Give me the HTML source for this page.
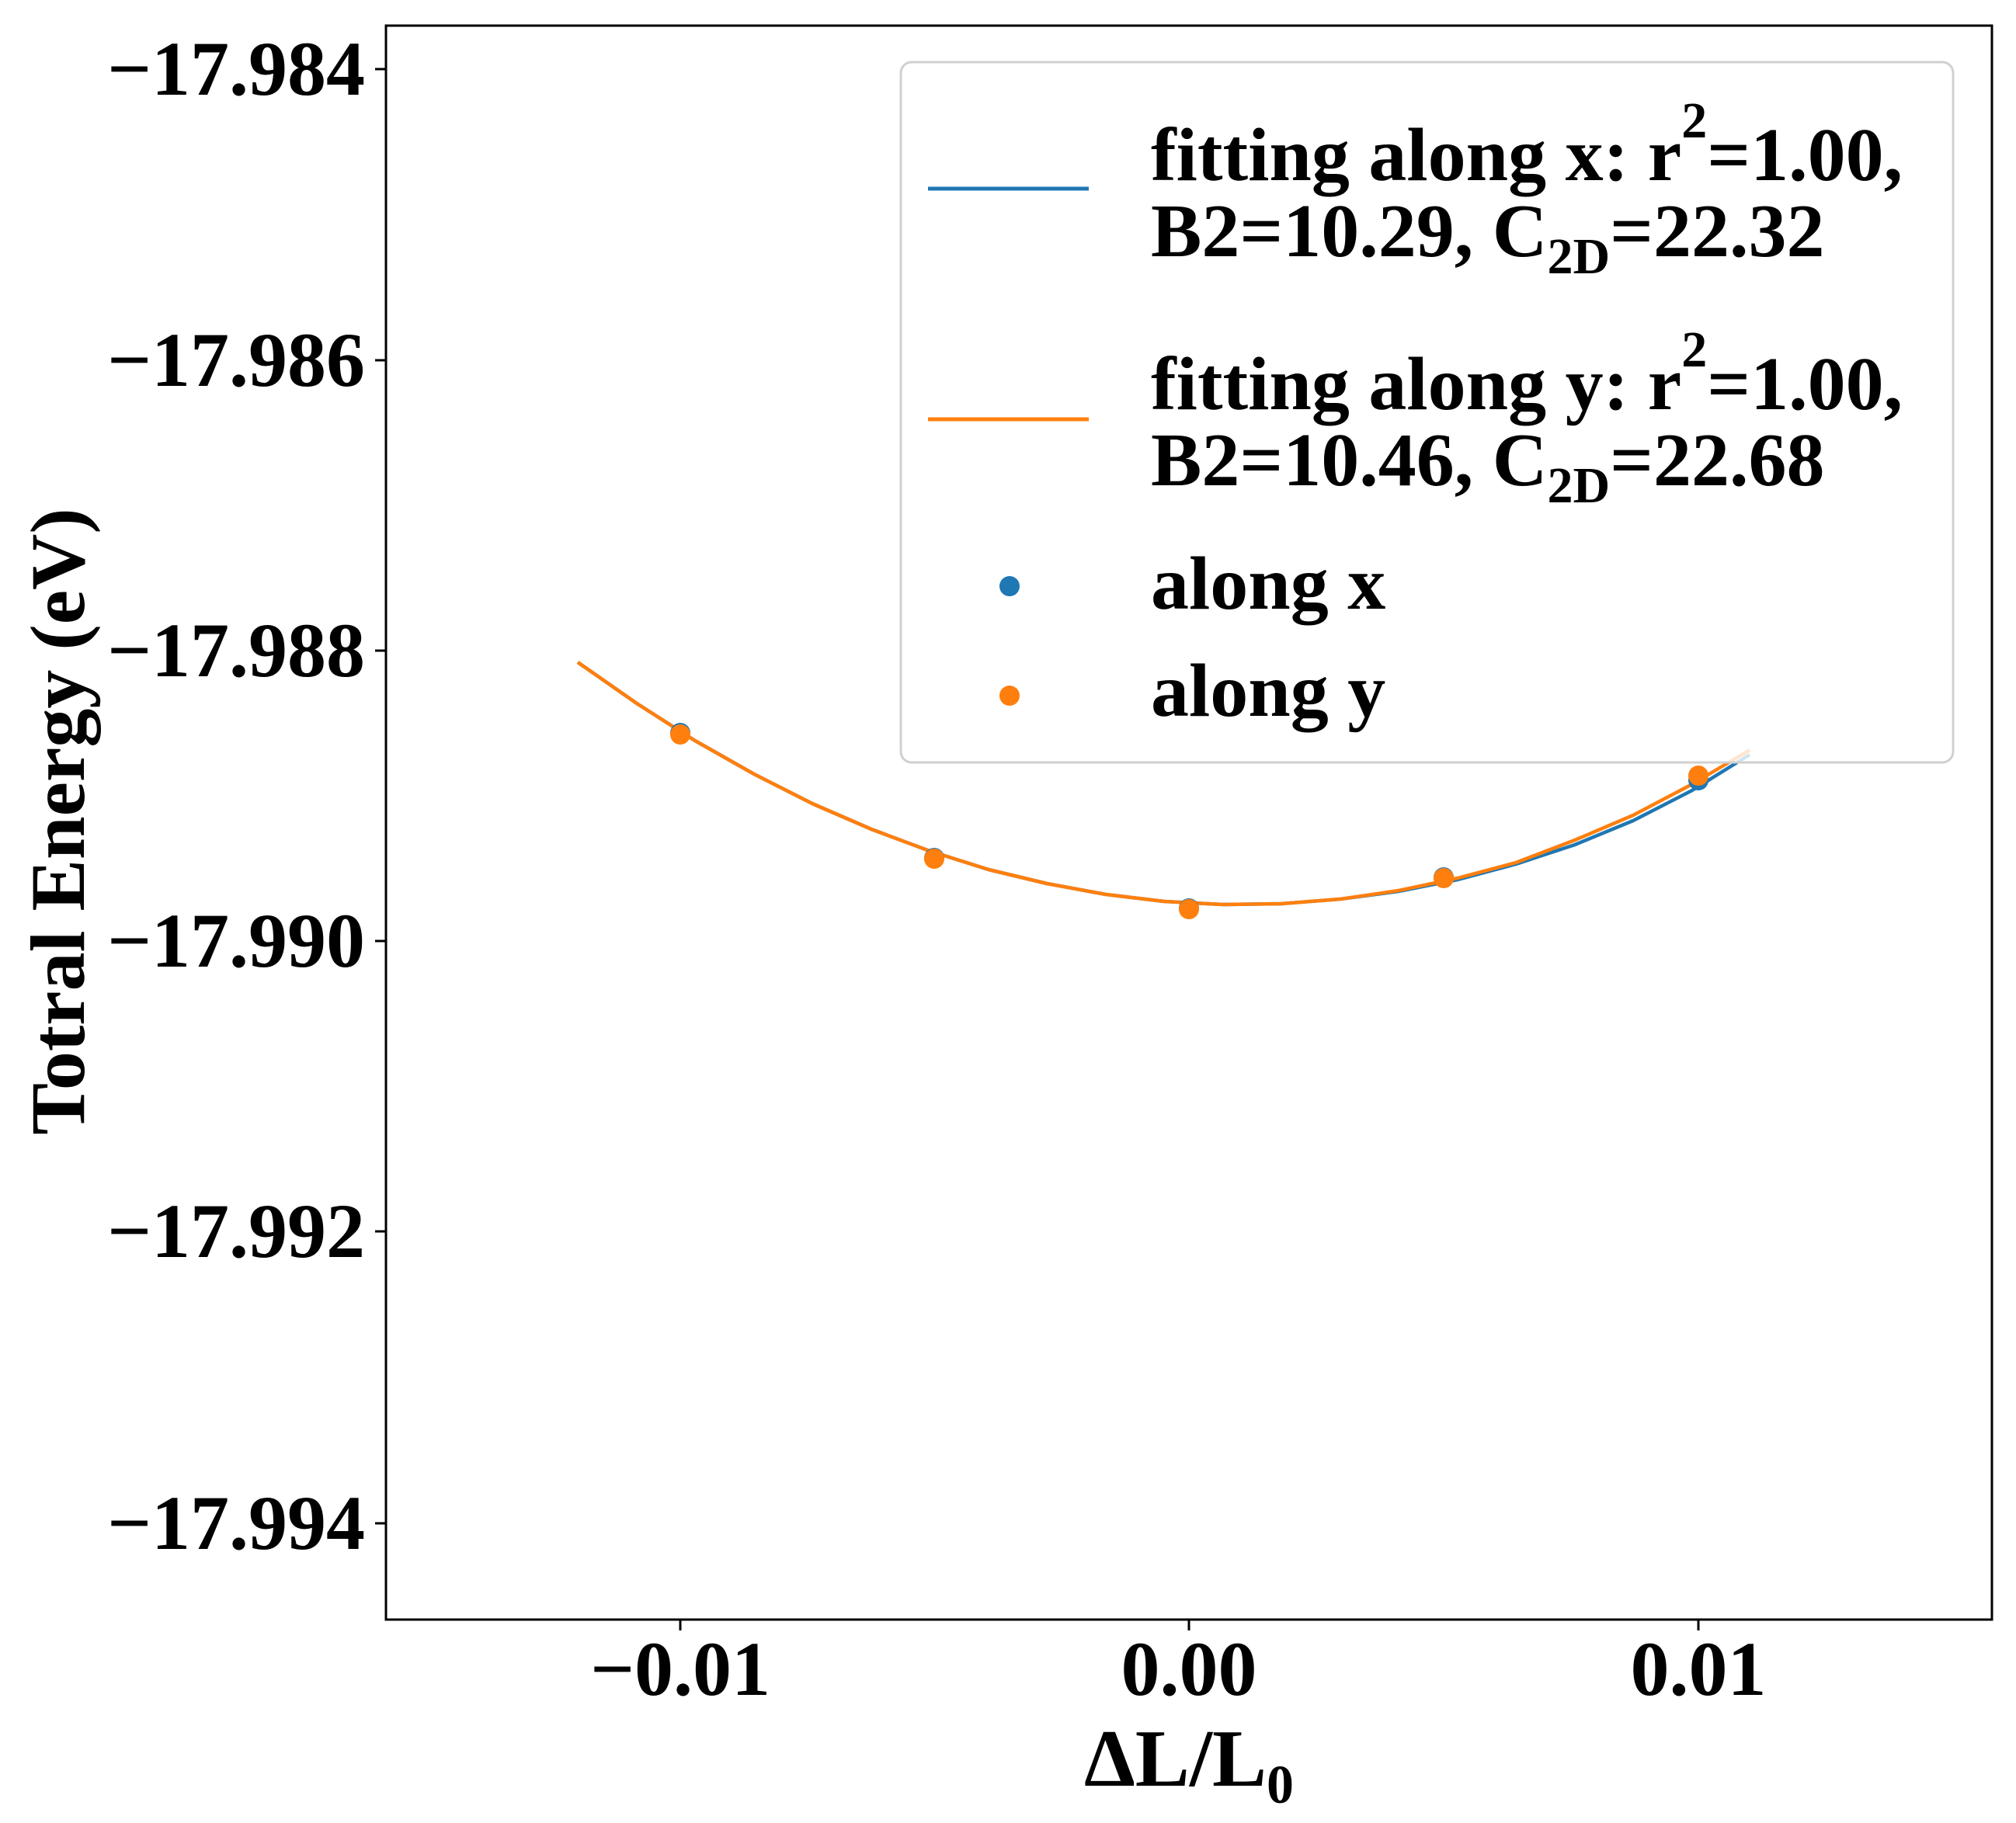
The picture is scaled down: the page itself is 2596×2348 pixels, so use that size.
<!DOCTYPE html>
<html><head><meta charset="utf-8"><style>html,body{margin:0;padding:0;background:#fff}svg{display:block}text{font-family:"Liberation Serif","Times New Roman",serif;font-weight:bold;fill:#000}</style></head>
<body>
<svg width="2596" height="2348" viewBox="0 0 2596 2348" xmlns="http://www.w3.org/2000/svg">
<rect width="2596" height="2348" fill="#fff"/>
<polyline fill="none" stroke="#1f77b4" stroke-width="4.5" stroke-linejoin="round" points="744,853 820,906 895,954 971,997 1046,1035 1122,1068 1197,1096 1273,1120 1348,1138 1424,1152 1499,1161 1575,1165 1650,1164 1726,1158 1801,1148 1877,1133 1952,1113 2028,1088 2103,1057 2179,1018 2253,972"/>
<polyline fill="none" stroke="#ff7f0e" stroke-width="4.5" stroke-linejoin="round" points="744,853 820,906 895,954 971,997 1046,1035 1122,1068 1197,1096 1273,1120 1348,1138 1424,1152 1499,1161 1575,1165 1650,1164 1726,1158 1801,1147 1877,1131 1952,1111 2028,1082 2103,1050 2179,1010 2253,966"/>
<g fill="#1f77b4"><circle cx="876" cy="944" r="13"/><circle cx="1203" cy="1105" r="13"/><circle cx="1531" cy="1170" r="13"/><circle cx="1859" cy="1130" r="13"/><circle cx="2187" cy="1005" r="13"/></g>
<g fill="#ff7f0e"><circle cx="876" cy="946" r="13"/><circle cx="1203" cy="1106" r="13"/><circle cx="1531" cy="1171" r="13"/><circle cx="1859" cy="1131" r="13"/><circle cx="2187" cy="999" r="13"/></g>
<rect x="497" y="33" width="2068" height="2053" fill="none" stroke="#000" stroke-width="3"/>
<g stroke="#000" stroke-width="3">
<line x1="876" y1="2086" x2="876" y2="2100"/><line x1="1531" y1="2086" x2="1531" y2="2100"/><line x1="2187" y1="2086" x2="2187" y2="2100"/>
<line x1="483" y1="89" x2="497" y2="89"/><line x1="483" y1="464" x2="497" y2="464"/><line x1="483" y1="838" x2="497" y2="838"/><line x1="483" y1="1212" x2="497" y2="1212"/><line x1="483" y1="1586" x2="497" y2="1586"/><line x1="483" y1="1962" x2="497" y2="1962"/>
</g>
<g font-size="100" text-anchor="middle">
<text x="876" y="2183">−0.01</text><text x="1531" y="2183">0.00</text><text x="2187" y="2183">0.01</text>
</g>
<g font-size="100" text-anchor="end">
<text x="470" y="122">−17.984</text><text x="470" y="497">−17.986</text><text x="470" y="871">−17.988</text><text x="470" y="1245">−17.990</text><text x="470" y="1619">−17.992</text><text x="470" y="1995">−17.994</text>
</g>
<text x="1531" y="2300" font-size="105" text-anchor="middle">ΔL/L<tspan font-size="70" dy="22">0</tspan></text>
<text transform="translate(108,1058) rotate(-90)" font-size="100" text-anchor="middle">Totral Energy (eV)</text>
<rect x="1160" y="80" width="1355" height="902" rx="14" fill="#fff" fill-opacity="0.8" stroke="#d0d0d0" stroke-width="3"/>
<line x1="1195" y1="243" x2="1402" y2="243" stroke="#1f77b4" stroke-width="5"/>
<line x1="1195" y1="540" x2="1402" y2="540" stroke="#ff7f0e" stroke-width="5"/>
<circle cx="1300" cy="755" r="13" fill="#1f77b4"/>
<circle cx="1300" cy="896" r="13" fill="#ff7f0e"/>
<g font-size="98">
<text x="1482" y="232">fitting along x: r<tspan font-size="66" dy="-55">2</tspan><tspan dy="55">=1.00,</tspan></text>
<text x="1482" y="330">B2=10.29, C<tspan font-size="66" dy="22">2D</tspan><tspan dy="-22">=22.32</tspan></text>
<text x="1482" y="527">fitting along y: r<tspan font-size="66" dy="-55">2</tspan><tspan dy="55">=1.00,</tspan></text>
<text x="1482" y="625">B2=10.46, C<tspan font-size="66" dy="22">2D</tspan><tspan dy="-22">=22.68</tspan></text>
<text x="1482" y="784">along x</text>
<text x="1482" y="922">along y</text>
</g>
</svg>
</body></html>
